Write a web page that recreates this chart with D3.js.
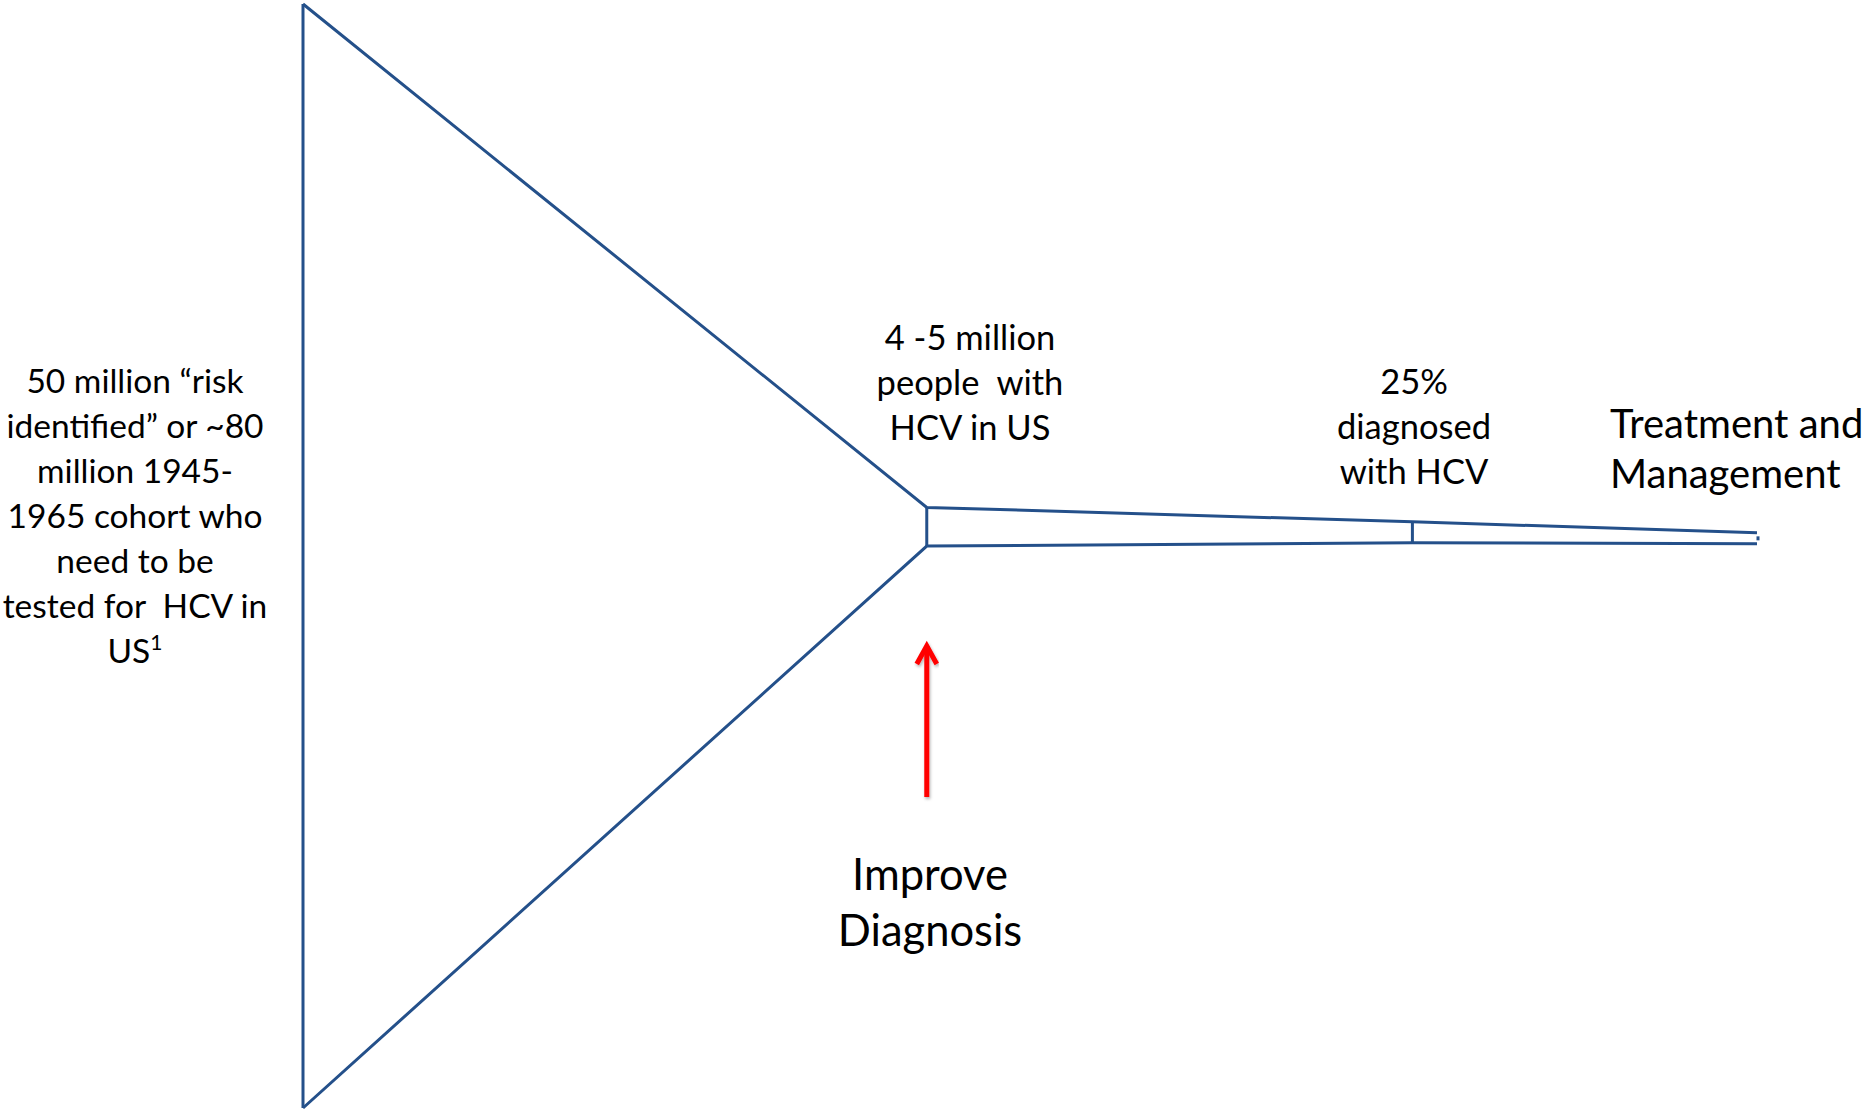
<!DOCTYPE html>
<html><head><meta charset="utf-8">
<script src="https://cdn.jsdelivr.net/npm/d3@7"></script>
<style>html,body{margin:0;padding:0;background:#fff;}svg{display:block;}text{white-space:pre;}</style>
</head><body>
<script>
// Funnel outline in abstract units (x: 0..100 along funnel, y: 0..100 top→bottom)
const stages = ["At risk / birth cohort", "Infected", "Diagnosed", "Treated"];
const stageX = [0, 42.9, 76.3, 100];
const topEdge = [0, 45.6, 46.9, 47.9];
const bottomEdge = [100, 49.1, 48.8, 48.9];

const leftLabel = ["50 million \u201Crisk", "identified\u201D or ~80", "million 1945-", "1965 cohort who", "need to be", "tested for  HCV in", "US"];
const infectedLabel = ["4 -5 million", "people  with", "HCV in US"];
const diagnosedLabel = ["25%", "diagnosed", "with HCV"];
const treatLabel = ["Treatment and", "Management"];
const actionLabel = ["Improve", "Diagnosis"];

const W = 1874, H = 1110;
const svg = d3.select("body").append("svg").attr("width", W).attr("height", H);
const x = d3.scaleLinear().domain([0, 100]).range([303, 1757]);
const y = d3.scaleLinear().domain([0, 100]).range([4, 1108]);
const blue = "#24508a";
const font = "Lato, 'Open Sans', sans-serif";

const topPts = stageX.map((v, i) => [x(v), y(topEdge[i])]);
const botPts = stageX.map((v, i) => [x(v), y(bottomEdge[i])]);
const line = d3.line();
const g = svg.append("g").attr("fill", "none").attr("stroke", blue).attr("stroke-width", 3);
g.append("path").attr("d", line(topPts));
g.append("path").attr("d", line(botPts));
stageX.forEach((v, i) => {
  if (i === stageX.length - 1) {
    const mid = (y(topEdge[i]) + y(bottomEdge[i])) / 2;
    g.append("line").attr("x1", x(v) + 1).attr("x2", x(v) + 1)
      .attr("y1", mid - 2).attr("y2", mid + 2);
  } else {
    g.append("line").attr("x1", x(v)).attr("x2", x(v))
      .attr("y1", y(topEdge[i])).attr("y2", y(bottomEdge[i]));
  }
});

function block(lines, cx, y0, dy, size, anchor) {
  const t = svg.append("text").attr("font-family", font).attr("font-size", size)
    .attr("fill", "#000").attr("text-anchor", anchor || "middle");
  lines.forEach((s, i) => {
    t.append("tspan").attr("x", cx).attr("y", y0 + i * dy).text(s);
  });
  return t;
}
const lt = block(leftLabel, 135, 393, 45, 33.5);
lt.select("tspan:last-child").append("tspan").attr("font-size", 21).attr("dy", -13).text("1");
block(infectedLabel, 970, 350, 45, 34.5);
block(diagnosedLabel, 1414, 394, 45, 34.5);
block(treatLabel, 1610, 438, 50, 40, "start");
block(actionLabel, 930, 890, 56, 43.5);

// red arrow
const defs = svg.append("defs");
defs.append("filter").attr("id", "sh").append("feDropShadow")
  .attr("dx", 1).attr("dy", 2).attr("stdDeviation", 1.5).attr("flood-color", "#000").attr("flood-opacity", 0.3);
const ax = x(42.9);
const ag = svg.append("g").attr("filter", "url(#sh)").attr("stroke", "#ff0000")
  .attr("stroke-width", 5).attr("fill", "none").attr("stroke-linecap", "butt");
ag.append("line").attr("x1", ax).attr("x2", ax).attr("y1", 797).attr("y2", 646);
ag.append("path").attr("d", `M${ax - 10},${664} L${ax},${646} L${ax + 10},${664}`)
  .attr("stroke-linejoin", "miter");
</script>
</body></html>
